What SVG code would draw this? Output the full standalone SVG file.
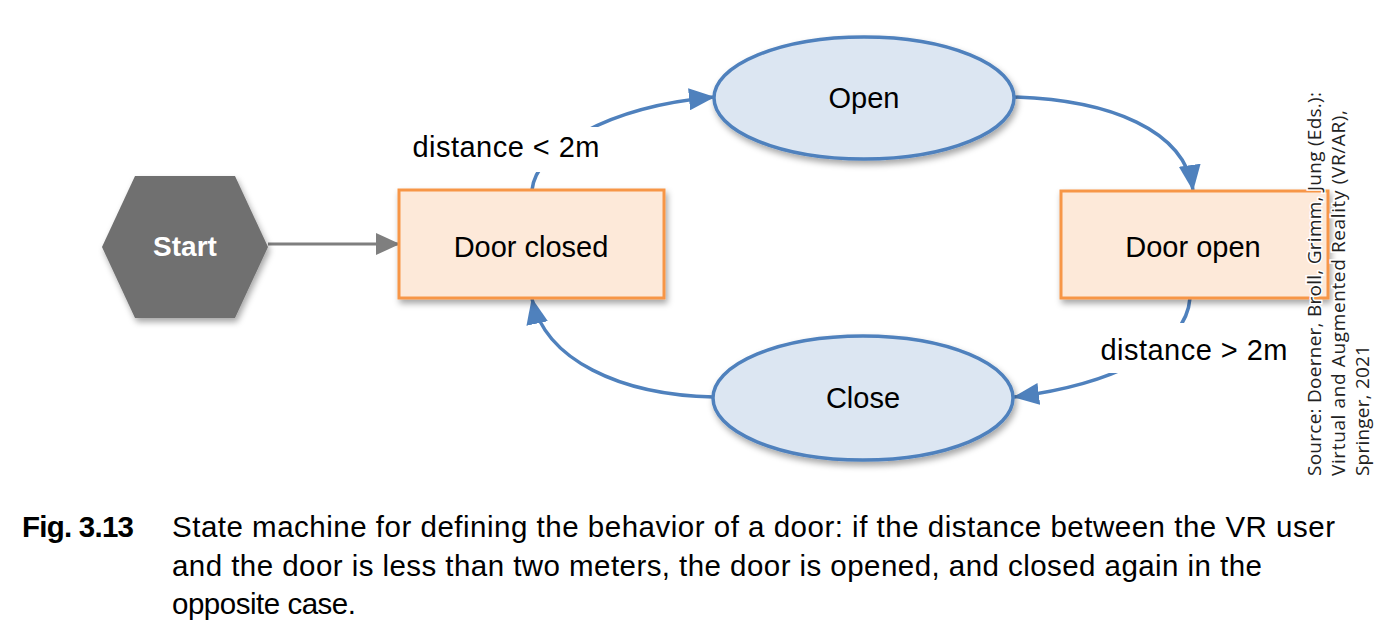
<svg xmlns="http://www.w3.org/2000/svg" width="1382" height="640" viewBox="0 0 1382 640">
  <style>
    .state { fill: #fde9d9; stroke: #f79646; stroke-width: 3; }
    .action { fill: #dce6f2; stroke: #4f81bd; stroke-width: 3.5; }
    .lbl { font-family: "Liberation Sans", Arial, sans-serif; font-size: 29px; fill: #000; text-anchor: middle; }
    .edge { fill: none; stroke: #4f81bd; stroke-width: 3.5; }
    .cap { font-family: "Liberation Sans", Arial, sans-serif; font-size: 29.5px; fill: #000; }
    .src { font-family: "Open Sans", "Liberation Sans", sans-serif; font-size: 19px; fill: #222; paint-order: stroke; stroke: #fff; stroke-width: 3; }
  </style>
  <defs>
    <filter id="sh" x="-20%" y="-20%" width="140%" height="150%">
      <feDropShadow dx="2" dy="4" stdDeviation="3" flood-color="#000" flood-opacity="0.35"/>
    </filter>
    <marker id="ab" markerUnits="userSpaceOnUse" markerWidth="26" markerHeight="22" viewBox="0 0 26 22" refX="25" refY="11" orient="auto">
      <path d="M0,0 L26,11 L0,22 z" fill="#4f81bd"/>
    </marker>
    <marker id="ag" markerUnits="userSpaceOnUse" markerWidth="24" markerHeight="22" viewBox="0 0 24 22" refX="23" refY="11" orient="auto">
      <path d="M0,0 L24,11 L0,22 z" fill="#7f7f7f"/>
    </marker>
  </defs>
  <rect width="1382" height="640" fill="#fff"/>

  <g id="connectors">
    <line x1="268" y1="244" x2="399" y2="244" stroke="#7f7f7f" stroke-width="3" marker-end="url(#ag)"/>
    <path class="edge" d="M532,190 C536,150 605,107 714,97" marker-end="url(#ab)"/>
    <path class="edge" d="M1014,97 C1110,100 1185,130 1193,190" marker-end="url(#ab)"/>
    <path class="edge" d="M1190,298 C1186,350 1110,385 1014,397" marker-end="url(#ab)"/>
    <path class="edge" d="M714,397 C620,395 545,360 532,299" marker-end="url(#ab)"/>
    <rect x="406" y="127" width="194" height="45" fill="#fff"/>
    <text class="lbl" x="506" y="157" textLength="187">distance &lt; 2m</text>
    <rect x="1096" y="323" width="196" height="50" fill="#fff"/>
    <text class="lbl" x="1194" y="360" textLength="187">distance &gt; 2m</text>
  </g>

  <g id="start">
    <polygon points="102,247 135,176 235,176 268,247 235,318 135,318" fill="#6f6f6f" filter="url(#sh)"/>
    <text x="185" y="256" font-family="Liberation Sans, Arial, sans-serif" font-size="28" font-weight="bold" fill="#fff" text-anchor="middle">Start</text>
  </g>

  <g id="door-closed">
    <rect class="state" x="399" y="190" width="265" height="108" filter="url(#sh)"/>
    <text class="lbl" x="531" y="257">Door closed</text>
  </g>

  <g id="door-open">
    <rect class="state" x="1061" y="191" width="267" height="107" filter="url(#sh)"/>
    <text class="lbl" x="1193" y="257">Door open</text>
  </g>

  <g id="open">
    <ellipse class="action" cx="864" cy="98" rx="150" ry="61" filter="url(#sh)"/>
    <text class="lbl" x="864" y="108">Open</text>
  </g>

  <g id="close">
    <ellipse class="action" cx="863" cy="398" rx="150" ry="62" filter="url(#sh)"/>
    <text class="lbl" x="863" y="408">Close</text>
  </g>

  <g id="source">
    <text class="src" transform="translate(1321,476) rotate(-90)" textLength="384">Source: Doerner, Broll, Grimm, Jung (Eds.):</text>
    <text class="src" transform="translate(1345,476) rotate(-90)" textLength="366">Virtual and Augmented Reality (VR/AR),</text>
    <text class="src" transform="translate(1369,476) rotate(-90)" textLength="131">Springer, 2021</text>
  </g>

  <g id="caption">
    <text class="cap" x="22" y="537" font-weight="bold" textLength="112">Fig. 3.13</text>
    <text class="cap" x="172" y="537" textLength="1163">State machine for defining the behavior of a door: if the distance between the VR user</text>
    <text class="cap" x="172" y="576" textLength="1090">and the door is less than two meters, the door is opened, and closed again in the</text>
    <text class="cap" x="172" y="614" textLength="184">opposite case.</text>
  </g>
</svg>
